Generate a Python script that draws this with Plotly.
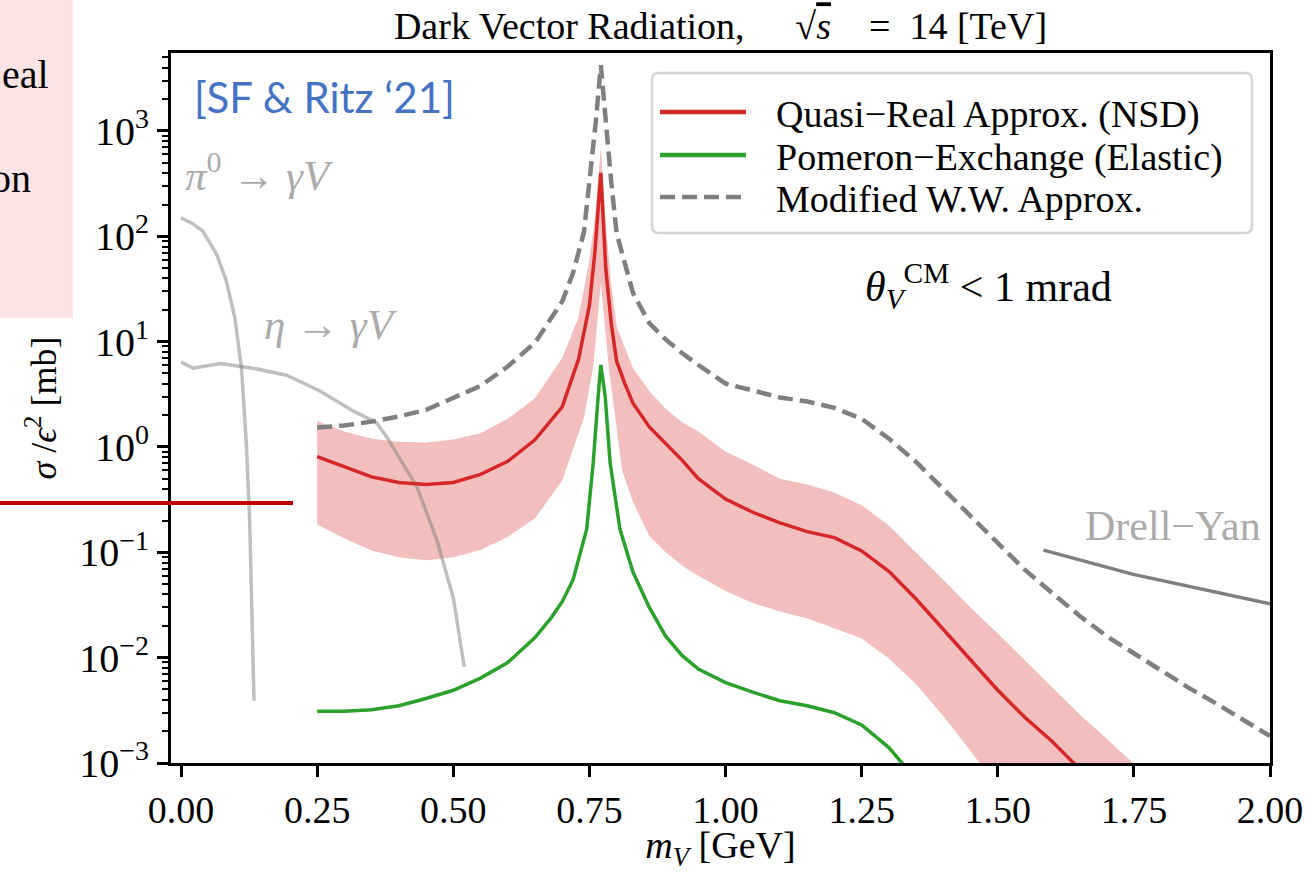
import plotly.graph_objects as go

# ---------------- data (m_V in GeV, sigma/eps^2 in mb) ----------------
m_nsd = [0.25, 0.30, 0.35, 0.40, 0.45, 0.50, 0.55, 0.60, 0.65, 0.70, 0.73, 0.75, 0.76, 0.771,
         0.78, 0.79, 0.80, 0.815, 0.83, 0.86, 0.89, 0.92, 0.95, 1.00, 1.05, 1.10, 1.15, 1.20,
         1.25, 1.30, 1.35, 1.40, 1.45, 1.50, 1.55, 1.60, 1.65]
sigma_nsd = [0.81, 0.65, 0.52, 0.46, 0.44, 0.46, 0.55, 0.73, 1.17, 2.4, 6.8, 22, 70, 400,
             50, 15, 6.5, 4.0, 2.6, 1.55, 1.08, 0.75, 0.50, 0.32, 0.24, 0.19, 0.157, 0.138,
             0.103, 0.066, 0.036, 0.0185, 0.0094, 0.0049, 0.0027, 0.0016, 0.00088]

m_band_up = [0.25, 0.30, 0.35, 0.40, 0.45, 0.50, 0.55, 0.60, 0.65, 0.70, 0.73, 0.75, 0.76, 0.771,
             0.78, 0.79, 0.80, 0.83, 0.86, 0.89, 0.92, 0.95, 1.00, 1.05, 1.10, 1.15, 1.20, 1.25,
             1.30, 1.35, 1.40, 1.45, 1.50, 1.55, 1.60, 1.65, 1.70, 1.76]
sigma_band_up = [1.76, 1.40, 1.20, 1.12, 1.10, 1.18, 1.35, 1.85, 2.9, 7.0, 17, 60, 150, 700,
                 130, 35, 14, 5.6, 3.4, 2.3, 1.72, 1.4, 0.90, 0.68, 0.50, 0.44, 0.37, 0.28,
                 0.18, 0.10, 0.055, 0.030, 0.017, 0.0094, 0.0052, 0.0029, 0.0017, 0.00088]

m_band_lo = [0.25, 0.30, 0.35, 0.40, 0.45, 0.50, 0.55, 0.60, 0.65, 0.70, 0.72, 0.74, 0.757, 0.771,
             0.785, 0.797, 0.81, 0.83, 0.86, 0.89, 0.92, 0.95, 1.00, 1.05, 1.10, 1.15, 1.20,
             1.25, 1.30, 1.35, 1.40, 1.45, 1.48]
sigma_band_lo = [0.184, 0.135, 0.104, 0.090, 0.084, 0.090, 0.105, 0.14, 0.21, 0.48, 0.95, 1.9, 5.8, 36,
                 6.0, 2.1, 0.6, 0.30, 0.142, 0.10, 0.075, 0.060, 0.043, 0.033, 0.0275, 0.0235, 0.019,
                 0.0152, 0.0098, 0.0056, 0.0028, 0.0013, 0.0008]

m_el = [0.25, 0.30, 0.35, 0.40, 0.45, 0.50, 0.55, 0.60, 0.65, 0.68, 0.70, 0.72, 0.745, 0.757, 0.766,
        0.771, 0.779, 0.788, 0.806, 0.83, 0.86, 0.89, 0.92, 0.95, 1.00, 1.05, 1.10, 1.15, 1.20,
        1.25, 1.30, 1.34]
sigma_el = [0.0031, 0.0031, 0.0032, 0.0035, 0.0041, 0.0049, 0.0064, 0.0090, 0.0155, 0.024, 0.034,
            0.055, 0.166, 0.71, 3.0, 6.0, 3.0, 0.71, 0.166, 0.065, 0.030, 0.016, 0.0105, 0.0078,
            0.0058, 0.0047, 0.0039, 0.0035, 0.0030, 0.0023, 0.0014, 0.0008]

m_ww = [0.25, 0.30, 0.35, 0.40, 0.45, 0.50, 0.55, 0.60, 0.65, 0.70, 0.72, 0.74, 0.751, 0.762, 0.771,
        0.78, 0.79, 0.80, 0.83, 0.86, 0.89, 0.92, 0.95, 1.00, 1.05, 1.10, 1.15, 1.20, 1.25, 1.30,
        1.35, 1.40, 1.45, 1.50, 1.55, 1.60, 1.65, 1.70, 1.75, 1.80, 1.85, 1.90, 1.95, 2.00]
sigma_ww = [1.53, 1.60, 1.74, 1.95, 2.25, 2.9, 3.8, 5.8, 9.8, 24, 45, 110, 340, 1260, 4200,
            1200, 330, 107, 29, 15, 10.5, 7.8, 6.0, 4.0, 3.4, 2.95, 2.7, 2.35, 1.85, 1.2,
            0.72, 0.40, 0.22, 0.12, 0.068, 0.041, 0.025, 0.016, 0.011, 0.0075, 0.0052, 0.0037,
            0.0026, 0.0018]

m_pi0 = [0.0, 0.022, 0.040, 0.065, 0.083, 0.099, 0.111, 0.120, 0.126, 0.131, 0.134]
sigma_pi0 = [150, 131, 112, 68, 38, 16.5, 5.6, 1.06, 0.197, 0.0245, 0.0039]

m_eta = [0.0, 0.022, 0.072, 0.132, 0.194, 0.255, 0.316, 0.359, 0.378, 0.433, 0.47, 0.50, 0.52]
sigma_eta = [6.4, 5.6, 6.2, 5.6, 4.8, 3.4, 2.2, 1.7, 1.24, 0.42, 0.13, 0.037, 0.0082]

m_dy = [1.584, 1.749, 2.0]
sigma_dy = [0.105, 0.0617, 0.0325]

x_ticks = [0.0, 0.25, 0.5, 0.75, 1.0, 1.25, 1.5, 1.75, 2.0]
y_exponents = [-3, -2, -1, 0, 1, 2, 3]

legend_labels = ["Quasi−Real Approx. (NSD)", "Pomeron−Exchange (Elastic)", "Modified W.W. Approx."]

# ---------------- styling ----------------
SERIF = "Liberation Serif"
RED = "#d62728"
GREEN = "#2ca02c"
GRAY = "#7f7f7f"
LIGHT = "rgba(127,127,127,0.5)"
DASH = "15px,7px"

W, H = 1313, 872
ML, MR, MT, MB = 171, 43, 53, 109
PW, PH = W - ML - MR, H - MT - MB


def px(p):   # page pixel x -> paper x
    return (p - ML) / PW


def py(q):   # page pixel y -> paper y
    return (H - MB - q) / PH


fig = go.Figure()

fig.add_trace(go.Scatter(
    x=m_band_up + m_band_lo[::-1], y=sigma_band_up + sigma_band_lo[::-1],
    fill="toself", fillcolor="rgba(214,39,40,0.3)", line=dict(width=0),
    mode="lines", showlegend=False, hoverinfo="skip"))
fig.add_trace(go.Scatter(x=m_pi0, y=sigma_pi0, mode="lines", name="π0 → γV",
                         line=dict(color=LIGHT, width=3.5), showlegend=False))
fig.add_trace(go.Scatter(x=m_eta, y=sigma_eta, mode="lines", name="η → γV",
                         line=dict(color=LIGHT, width=3.5), showlegend=False))
fig.add_trace(go.Scatter(x=m_dy, y=sigma_dy, mode="lines", name="Drell−Yan",
                         line=dict(color=GRAY, width=3.5), showlegend=False))
fig.add_trace(go.Scatter(x=m_nsd, y=sigma_nsd, mode="lines", name=legend_labels[0],
                         line=dict(color=RED, width=3.5), showlegend=False))
fig.add_trace(go.Scatter(x=m_el, y=sigma_el, mode="lines", name=legend_labels[1],
                         line=dict(color=GREEN, width=3.5), showlegend=False))
fig.add_trace(go.Scatter(x=m_ww, y=sigma_ww, mode="lines", name=legend_labels[2],
                         line=dict(color=GRAY, width=4.5, dash=DASH), showlegend=False))

minor_vals = [k * 10.0 ** e for e in range(-3, 4) for k in range(2, 10)]

fig.update_layout(
    width=W, height=H,
    margin=dict(l=ML, r=MR, t=MT, b=MB, autoexpand=False),
    paper_bgcolor="white", plot_bgcolor="white",
    showlegend=False,
    font=dict(family=SERIF, size=36, color="black"),
    title=dict(text="Dark Vector Radiation,\u2003\u2004√<span style='text-decoration:overline'><i>s</i></span>\u2003=\u200214 [TeV]",
               x=0.5, xref="paper", xanchor="center",
               y=1 - 26 / H, yref="container", yanchor="middle",
               font=dict(family=SERIF, size=38, color="black")),
    xaxis=dict(range=[-0.0185, 2.0], tickvals=x_ticks, tickformat=".2f",
               ticks="outside", ticklen=11, tickwidth=2.5, tickcolor="black",
               showline=True, linewidth=3, linecolor="black", mirror=True,
               showgrid=False, zeroline=False,
               tickfont=dict(family=SERIF, size=38),
               title=dict(text="<i>m<sub>V</sub></i> [GeV]", standoff=11,
                          font=dict(family=SERIF, size=38))),
    yaxis=dict(type="log", range=[-3, 3.74],
               tickvals=[10.0 ** e for e in y_exponents],
               ticktext=["10<sup>%s</sup>" % (str(e).replace("-", "−")) for e in y_exponents],
               ticks="outside", ticklen=11, tickwidth=2.5, tickcolor="black",
               minor=dict(tickvals=minor_vals, ticks="outside", ticklen=6, tickwidth=1.5,
                          tickcolor="black", showgrid=False),
               showline=True, linewidth=3, linecolor="black", mirror=True,
               showgrid=False, zeroline=False,
               tickfont=dict(family=SERIF, size=40),
               title=dict(text="<i>σ</i> /<i>ϵ</i><sup>2</sup> [mb]", standoff=12,
                          font=dict(family=SERIF, size=36))),
)

ann = []


def text(t, x, y, xanchor="left", size=38, color="black", family=SERIF, xref="x", yref="y"):
    ann.append(dict(text=t, x=x, y=y, xref=xref, yref=yref, xanchor=xanchor, yanchor="middle",
                    showarrow=False, font=dict(family=family, size=size, color=color)))


text("[SF & Ritz ‘21]", 0.020, 3.32, size=42, color="#4472c4", family="Lato")
text("<i>π</i><sup>0</sup> → <i>γV</i>", 0.004, 2.61, size=43, color="#ababab")
text("<i>η</i> → <i>γV</i>", 0.148, 1.16, size=43, color="#ababab")
text("<i>θ</i><sub><i>V</i></sub><sup>CM</sup> < 1 mrad", 1.253, 1.53, size=42)
text("Drell−Yan", 1.987, -0.754, xanchor="right", size=42, color="#ababab")
# slide fragments outside the chart
text("eal", px(51), py(75), xanchor="right", size=40, xref="paper", yref="paper")
text("on", px(33), py(178), xanchor="right", size=40, xref="paper", yref="paper")

# hand-drawn legend (matplotlib style, long line samples)
leg_rows_y = [112, 155, 197]
for lbl, yy in zip(legend_labels, leg_rows_y):
    text(lbl, px(774), py(yy + 2), size=38, xref="paper", yref="paper")
fig.update_layout(annotations=ann)


def rounded_rect(x0, y0, x1, y1, r):
    a, b, c, d = px(x0), px(x1), py(y0), py(y1)   # c top, d bottom in paper
    rx, ry = r / PW, r / PH
    return (f"M {a+rx},{c} L {b-rx},{c} Q {b},{c} {b},{c-ry} L {b},{d+ry} Q {b},{d} {b-rx},{d} "
            f"L {a+rx},{d} Q {a},{d} {a},{d+ry} L {a},{c-ry} Q {a},{c} {a+rx},{c} Z")


shapes = [
    dict(type="rect", xref="paper", yref="paper", x0=px(-10), x1=px(73),
         y0=py(318), y1=py(-10), fillcolor="#fde4e4", line=dict(width=0), layer="below"),
    dict(type="path", xref="paper", yref="paper", path=rounded_rect(652, 73, 1252, 233, 7),
         fillcolor="rgba(255,255,255,0.85)", line=dict(color="#d4d4d4", width=2.5), layer="above"),
]
for col, yy, dash, wid in [(RED, 112, "solid", 4.5), (GREEN, 155, "solid", 4.5), (GRAY, 197, DASH, 4.5)]:
    shapes.append(dict(type="line", xref="paper", yref="paper", x0=px(660), x1=px(746),
                       y0=py(yy), y1=py(yy), line=dict(color=col, width=wid, dash=dash), layer="above"))
shapes.append(dict(type="line", xref="paper", yref="paper", x0=px(-10), x1=px(293),
                   y0=py(503), y1=py(503), line=dict(color="#c00000", width=4), layer="above"))
fig.update_layout(shapes=shapes)

fig.write_html("out.html", config={"displayModeBar": False},
               post_script="document.body.style.margin='0px';document.body.style.overflow='hidden';")
